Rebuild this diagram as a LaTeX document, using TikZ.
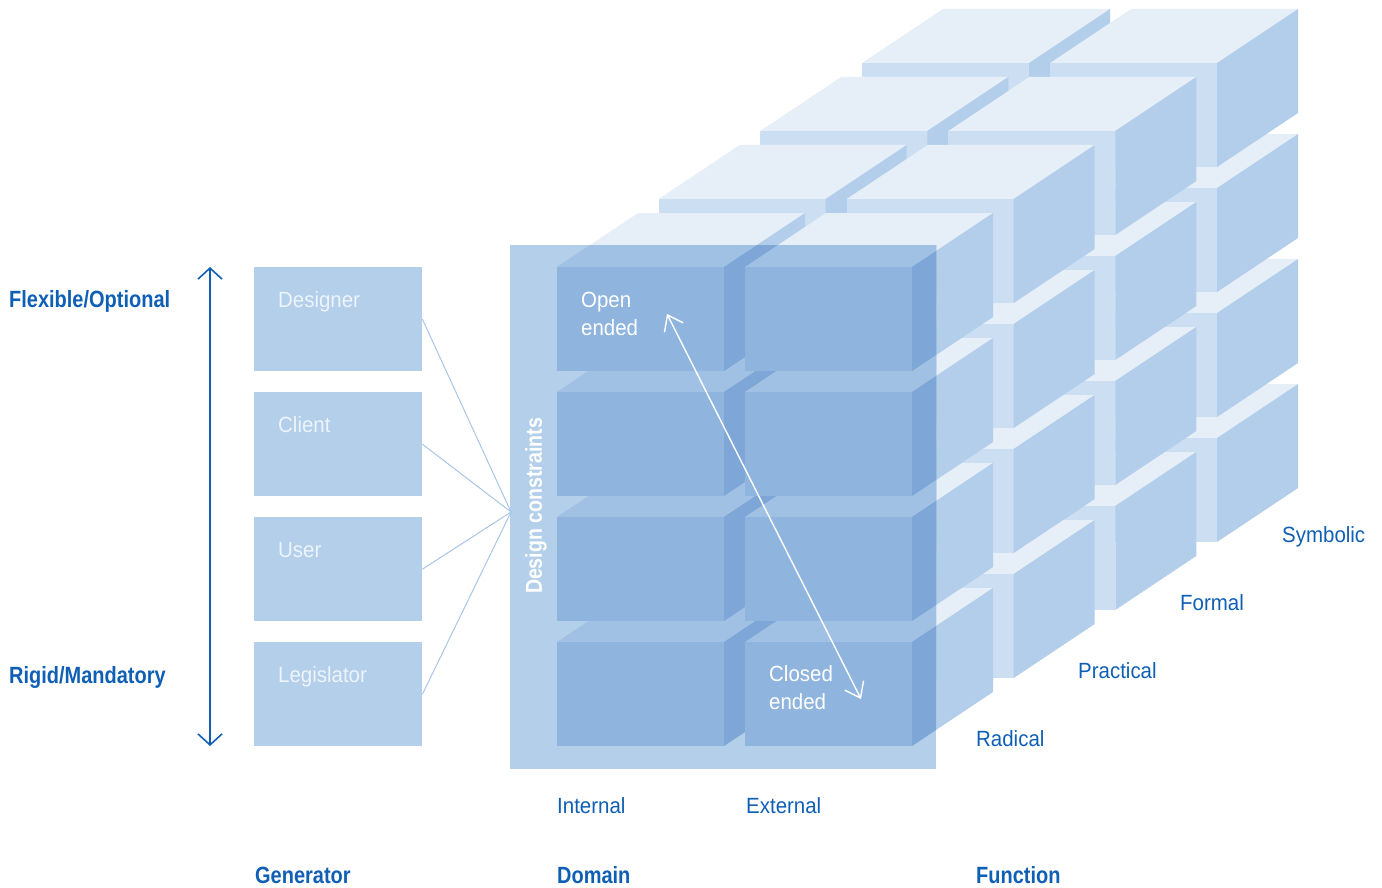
\documentclass[tikz,border=0pt]{standalone}
\usepackage{fontspec}
\setmainfont{Liberation Sans}
\newfontfamily\lblfont[FakeStretch=0.93]{Liberation Sans}
\newfontfamily\lblbold[FakeStretch=0.85]{Liberation Sans Bold}
\usetikzlibrary{arrows.meta,calc}
\definecolor{ctop}{RGB}{230,238,248}
\definecolor{cfront}{RGB}{204,222,242}
\definecolor{cside}{RGB}{179,206,234}
\definecolor{dtop}{RGB}{161,193,228}
\definecolor{dfront}{RGB}{143,180,222}
\definecolor{dside}{RGB}{126,167,215}
\definecolor{rectc}{RGB}{179,207,234}
\definecolor{txtblue}{RGB}{15,95,181}
\definecolor{connc}{RGB}{168,198,232}
\definecolor{boxtxt}{RGB}{238,244,251}

\newcommand\cubeat[5]{%
  \fill[#3] (#1,#2) -- ++(81,-54) -- ++(167,0) -- ++(-81,54) -- cycle;
  \fill[#4] (#1,#2) rectangle ++(167,104);
  \fill[#5] (#1+167,#2) -- ++(81,-54) -- ++(0,104) -- ++(-81,54) -- cycle;
}
\newcommand\cubescene[3]{%
  \foreach \L in {3,2,1,0}{%
    \foreach \r in {3,2,1,0}{%
      \foreach \c in {0,1}{%
        \pgfmathsetmacro\cx{557+188*\c+101.667*\L}%
        \pgfmathsetmacro\cy{267+125*\r-68*\L}%
        \cubeat{\cx}{\cy}{#1}{#2}{#3}%
      }}}}

\tikzset{
  lbl/.style={text=txtblue, font=\lblfont\fontsize{22}{26}\selectfont, inner sep=0pt, anchor=base west},
  lblb/.style={text=txtblue, font=\lblbold\fontsize{23.5}{28}\selectfont, inner sep=0pt, anchor=base west},
  genbox/.style={fill=rectc, minimum width=168pt, minimum height=104pt, inner sep=0pt, anchor=north west},
  boxlbl/.style={text=boxtxt, font=\lblfont\fontsize{22}{28}\selectfont, inner sep=0pt, anchor=base west, align=left},
  conn/.style={draw=connc, line width=1pt},
  blueaxis/.style={draw=txtblue, line width=1.6pt, {Straight Barb[length=11pt,width=24pt,line width=1.6pt]}-{Straight Barb[length=11pt,width=24pt,line width=1.6pt]}},
  whitearrow/.style={draw=white, line width=1.4pt, {Straight Barb[length=14pt,width=21pt,line width=1.4pt]}-{Straight Barb[length=14pt,width=21pt,line width=1.4pt]}}
}

\begin{document}
\begin{tikzpicture}[x=1pt,y=-1pt]
\useasboundingbox (0,0) rectangle (1382,888);

% cube scene
\cubescene{ctop}{cfront}{cside}
\coordinate (dcNW) at (510,245);
\coordinate (dcSE) at (936,769);
\begin{scope}
  \clip (dcNW) rectangle (dcSE);
  \fill[rectc] (dcNW) rectangle (dcSE);
  \cubescene{dtop}{dfront}{dside}
\end{scope}

% left axis
\coordinate (axtop) at (210,267);
\coordinate (axbot) at (210,746);
\draw[blueaxis] (axtop) -- (axbot);
\node[lblb] (flex) at (9,307) {Flexible/Optional};
\node[lblb] (rigid) at (9,683) {Rigid/Mandatory};

% generator boxes
\node[genbox] (designer) at (254,267) {};
\node[genbox] (client) at (254,392) {};
\node[genbox] (user) at (254,517) {};
\node[genbox] (legis) at (254,642) {};
\node[boxlbl] (designer-t) at (278,307) {Designer};
\node[boxlbl] (client-t) at (278,432) {Client};
\node[boxlbl] (user-t) at (278,557) {User};
\node[boxlbl] (legis-t) at (278,682) {Legislator};

\coordinate (hub) at (511,512);
\draw[conn] (designer.east) -- (hub);
\draw[conn] (client.east) -- (hub);
\draw[conn] (user.east) -- (hub);
\draw[conn] (legis.east) -- (hub);

% design constraints label
\node[text=white, font=\lblbold\fontsize{23}{28}\selectfont, rotate=90, inner sep=0pt] (dclabel) at (536,506) {Design constraints};

% open / closed ended
\node[boxlbl, text=white] (open) at (581,335) {Open\\ended};
\node[boxlbl, text=white] (closed) at (769,709) {Closed\\ended};
\coordinate (opentip) at (667,314);
\coordinate (closedtip) at (861,699);
\draw[whitearrow] (opentip) -- (closedtip);

% function labels
\node[lbl] (radical) at (976,746) {Radical};
\node[lbl] (practical) at (1078,678) {Practical};
\node[lbl] (formal) at (1180,610) {Formal};
\node[lbl] (symbolic) at (1282,542) {Symbolic};

% domain labels
\node[lbl] (internal) at (557,813) {Internal};
\node[lbl] (external) at (746,813) {External};

% bottom headers
\node[lblb] (generator) at (255,883) {Generator};
\node[lblb] (domain) at (557,883) {Domain};
\node[lblb] (function) at (976,883) {Function};
\end{tikzpicture}
\end{document}
